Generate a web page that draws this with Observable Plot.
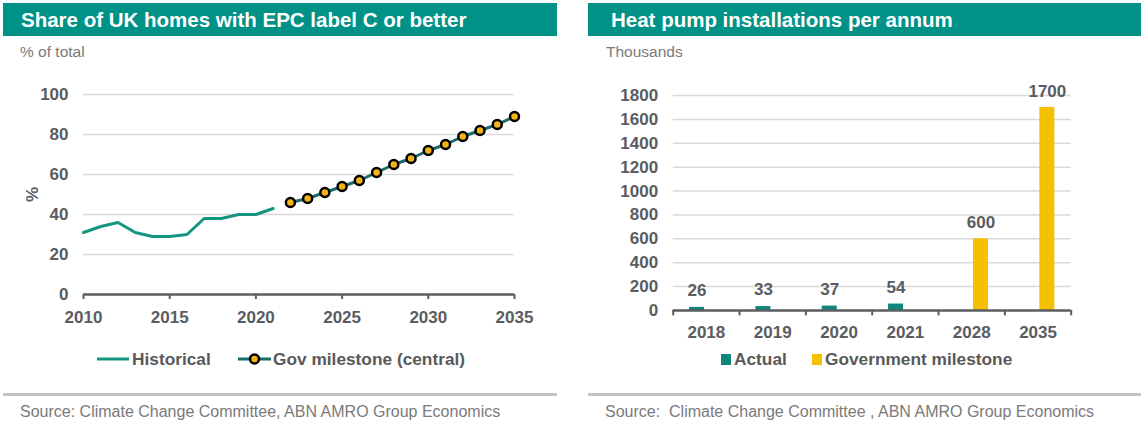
<!DOCTYPE html>
<html>
<head>
<meta charset="utf-8">
<script src="https://cdn.jsdelivr.net/npm/d3@7"></script>
<script src="https://cdn.jsdelivr.net/npm/@observablehq/plot@0.6"></script>
<style>
  html, body { margin: 0; padding: 0; background: #fff; }
  body { width: 1144px; height: 424px; position: relative; overflow: hidden;
         font-family: "Liberation Sans", Arial, sans-serif; }
  .title { position: absolute; top: 3px; height: 33px; background: #009286; color: #fff;
           font-weight: bold; font-size: 20.5px; line-height: 34px; box-sizing: border-box; white-space: nowrap; }
  .sub { position: absolute; top: 43px; font-size: 15.5px; color: #7a7a7a; line-height: 18px; }
  .plot { position: absolute; }
  .legend { position: absolute; top: 349px; height: 20px; font-size: 17.3px; font-weight: bold;
            color: #595959; line-height: 20px; white-space: nowrap; }
  .sep { position: absolute; top: 393px; height: 3px; background: #c3c3c3; }
  .src { position: absolute; top: 403px; font-size: 16px; color: #7a7a7a; line-height: 18px; white-space: nowrap; }
</style>
</head>
<body>
<div class="title" style="left:3px;width:554px;padding-left:18px;">Share of UK homes with EPC label C or better</div>
<div class="sub" style="left:20px;">% of total</div>
<div class="plot" id="left" style="left:0;top:60px;"></div>
<div class="legend" id="legL" style="left:0;width:560px;"></div>
<div class="sep" style="left:3px;width:554px;"></div>
<div class="src" style="left:20px;">Source: Climate Change Committee, ABN AMRO Group Economics</div>

<div class="title" style="left:588px;width:553px;padding-left:23px;">Heat pump installations per annum</div>
<div class="sub" style="left:606px;">Thousands</div>
<div class="plot" id="right" style="left:590px;top:60px;"></div>
<div class="legend" id="legR" style="left:590px;width:554px;"></div>
<div class="sep" style="left:588px;width:553px;"></div>
<div class="src" style="left:605px;">Source:&nbsp; Climate Change Committee , ABN AMRO Group Economics</div>

<script>
// ---------- Left chart data ----------
const histYears = [2010, 2011, 2012, 2013, 2014, 2015, 2016, 2017, 2018, 2019, 2020, 2021];
const histValues = [31, 34, 36, 31, 29, 29, 30, 38, 38, 40, 40, 43];
const milestoneYears = [2022, 2023, 2024, 2025, 2026, 2027, 2028, 2029, 2030, 2031, 2032, 2033, 2034, 2035];
const milestoneValues = [46, 48, 51, 54, 57, 61, 65, 68, 72, 75, 79, 82, 85, 89];
const leftYTicks = [0, 20, 40, 60, 80, 100];
const leftXTicks = [2010, 2015, 2020, 2025, 2030, 2035];
const leftSeries = ["Historical", "Gov milestone (central)"];

// ---------- Right chart data ----------
const hpYears = ["2018", "2019", "2020", "2021", "2028", "2035"];
const hpActual = [26, 33, 37, 54, null, null];
const hpMilestone = [null, null, null, null, 600, 1700];
const rightYTicks = [0, 200, 400, 600, 800, 1000, 1200, 1400, 1600, 1800];
const rightSeries = ["Actual", "Government milestone"];

// ---------- Colours ----------
const histColor = "#14957f";
const govLine = "#1d6b69";
const dotFill = "#f2b517";
const actualColor = "#0e877b";
const milestoneColor = "#f5c000";
const axisColor = "#5a5d62";
const gridColor = "#d9d9d9";
const textColor = "#595c61";

const hist = histYears.map((y, i) => ({year: y, value: histValues[i]}));
const gov = milestoneYears.map((y, i) => ({year: y, value: milestoneValues[i]}));

const left = Plot.plot({
  width: 560, height: 270,
  marginLeft: 83, marginRight: 46, marginTop: 34, marginBottom: 36,
  style: {fontFamily: '"Liberation Sans", Arial, sans-serif', color: textColor, background: "transparent", overflow: "visible"},
  x: {domain: [2010, 2035]},
  y: {domain: [0, 100]},
  marks: [
    Plot.ruleY(leftYTicks.filter(d => d > 0), {stroke: gridColor, strokeWidth: 1.5}),
    Plot.axisY({ticks: leftYTicks, tickFormat: "d", tickSize: 0, tickPadding: 15, fontSize: 17, fontWeight: "bold",
                label: "%", labelAnchor: "center", labelArrow: "none", labelOffset: 58}),
    Plot.axisX({ticks: leftXTicks, tickFormat: "d", tickSize: 5, tickPadding: 11, fontSize: 17,
                fontWeight: "bold", stroke: axisColor, strokeWidth: 2, label: null}),
    Plot.ruleY([0], {stroke: axisColor, strokeWidth: 2.5}),
    Plot.line(hist, {x: "year", y: "value", stroke: histColor, strokeWidth: 3}),
    Plot.line(gov, {x: "year", y: "value", stroke: govLine, strokeWidth: 3}),
    Plot.dot(gov, {x: "year", y: "value", r: 4.5, fill: dotFill, stroke: "#000", strokeWidth: 2.5})
  ]
});
document.getElementById("left").appendChild(left);

// ---------- Right chart ----------
const actualRows = hpYears.map((y, i) => ({year: y, value: hpActual[i]})).filter(d => d.value != null);
const milestoneRows = hpYears.map((y, i) => ({year: y, value: hpMilestone[i]})).filter(d => d.value != null);

const rW = 554, rML = 82.7, rMR = 73.3;
const step = (rW - rML - rMR) / hpYears.length;

const right = Plot.plot({
  width: rW, height: 280,
  marginLeft: rML, marginRight: rMR, marginTop: 35, marginBottom: 30,
  style: {fontFamily: '"Liberation Sans", Arial, sans-serif', color: textColor, background: "transparent", overflow: "visible"},
  x: {domain: hpYears, paddingInner: 0.774, paddingOuter: 0.387, round: false},
  y: {domain: [0, 1800]},
  marks: [
    Plot.ruleY(rightYTicks.filter(d => d > 0), {stroke: gridColor, strokeWidth: 1.5}),
    Plot.axisY({ticks: rightYTicks, tickFormat: d => String(d), tickSize: 0, tickPadding: 15, fontSize: 17, fontWeight: "bold", label: null}),
    Plot.axisX({tickSize: 0, tickPadding: 15, fontSize: 17, fontWeight: "bold", label: null}),
    Plot.barY(actualRows, {x: "year", y: "value", fill: actualColor, dx: -9.3}),
    Plot.barY(milestoneRows, {x: "year", y: "value", fill: milestoneColor, dx: 9.3}),
    Plot.text(actualRows, {x: "year", y: "value", text: d => String(d.value), dx: -9.3, dy: -17,
                           fontSize: 17, fontWeight: "bold", fill: textColor}),
    Plot.text(milestoneRows, {x: "year", y: "value", text: d => String(d.value), dx: 9.3, dy: -16,
                              fontSize: 17, fontWeight: "bold", fill: textColor}),
    Plot.ruleY([0], {stroke: axisColor, strokeWidth: 2.5}),
    Plot.ruleX(hpYears, {x: d => d, dx: -step / 2, y1: 0, y2: -45, stroke: axisColor, strokeWidth: 2}),
    Plot.ruleX(hpYears.slice(-1), {x: d => d, dx: step / 2, y1: 0, y2: -45, stroke: axisColor, strokeWidth: 2})
  ]
});
document.getElementById("right").appendChild(right);

// ---------- Legends ----------
const legL = document.getElementById("legL");
legL.innerHTML =
  `<span style="position:absolute;left:97px;top:0;">` +
  `<svg width="32" height="20" style="vertical-align:top"><line x1="0" x2="32" y1="10" y2="10" stroke="${histColor}" stroke-width="3"/></svg></span>` +
  `<span style="position:absolute;left:132px;top:0;">${leftSeries[0]}</span>` +
  `<span style="position:absolute;left:238px;top:0;">` +
  `<svg width="33" height="20" style="vertical-align:top"><line x1="0" x2="33" y1="10" y2="10" stroke="${govLine}" stroke-width="3"/>` +
  `<circle cx="16.5" cy="10" r="4.5" fill="${dotFill}" stroke="#000" stroke-width="2.5"/></svg></span>` +
  `<span style="position:absolute;left:273px;top:0;">${leftSeries[1]}</span>`;

const legR = document.getElementById("legR");
legR.innerHTML =
  `<span style="position:absolute;left:131px;top:5px;width:10px;height:11px;background:${actualColor}"></span>` +
  `<span style="position:absolute;left:144px;top:0;">${rightSeries[0]}</span>` +
  `<span style="position:absolute;left:222px;top:5px;width:10px;height:11px;background:${milestoneColor}"></span>` +
  `<span style="position:absolute;left:235px;top:0;">${rightSeries[1]}</span>`;
</script>
</body>
</html>
